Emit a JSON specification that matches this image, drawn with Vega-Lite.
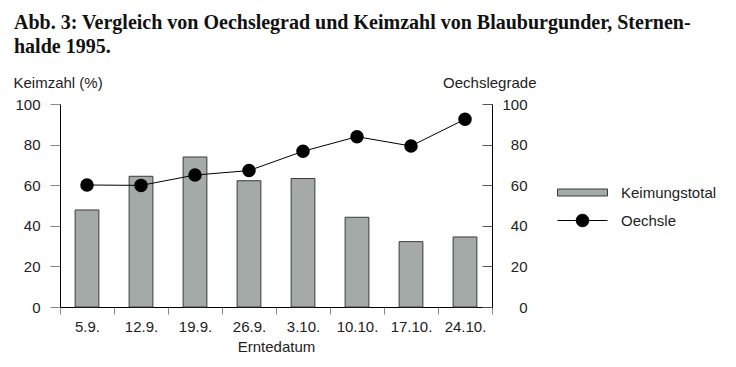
{
  "$schema": "https://vega.github.io/schema/vega-lite/v6.json",
  "width": 432,
  "height": 203,
  "autosize": {"type": "none"},
  "padding": {"left": 60, "top": 104, "right": 244, "bottom": 60},
  "background": "white",
  "title": {
    "text": ["Abb. 3: Vergleich von Oechslegrad und Keimzahl von Blauburgunder, Sternen-", "halde 1995."],
    "anchor": "start",
    "frame": "group",
    "font": "Liberation Serif",
    "fontSize": 20,
    "fontWeight": "bold",
    "color": "#111111",
    "lineHeight": 24,
    "dx": -46,
    "dy": -14
  },
  "config": {
    "view": {"stroke": null},
    "font": "Liberation Sans"
  },
  "data": {
    "values": [
      {"date": "5.9.", "keim": 47.8, "oechsle": 60.1},
      {"date": "12.9.", "keim": 64.4, "oechsle": 59.9},
      {"date": "19.9.", "keim": 73.9, "oechsle": 65.0},
      {"date": "26.9.", "keim": 62.2, "oechsle": 67.2},
      {"date": "3.10.", "keim": 63.3, "oechsle": 76.7},
      {"date": "10.10.", "keim": 44.2, "oechsle": 83.9},
      {"date": "17.10.", "keim": 32.2, "oechsle": 79.3},
      {"date": "24.10.", "keim": 34.5, "oechsle": 92.5}
    ]
  },
  "encoding": {
    "x": {
      "field": "date",
      "type": "nominal",
      "sort": null,
      "scale": {"paddingInner": 0, "paddingOuter": 0},
      "axis": {
        "title": "Erntedatum",
        "labelAngle": 0,
        "tickBand": "extent",
        "tickSize": 7,
        "tickColor": "#888888",
        "domainColor": "#000000",
        "labelPadding": 5,
        "labelFontSize": 15,
        "labelColor": "#222222",
        "titleFontSize": 15,
        "titleFontWeight": "normal",
        "titleColor": "#222222",
        "titlePadding": 5
      }
    }
  },
  "layer": [
    {
      "mark": {"type": "bar", "width": {"band": 0.44}, "stroke": "#3a3a3a", "strokeWidth": 1},
      "encoding": {
        "y": {
          "field": "keim",
          "type": "quantitative",
          "scale": {"domain": [0, 100]},
          "axis": {
            "title": "Keimzahl (%)",
            "titleAngle": 0,
            "titleX": -47,
            "titleY": -17,
            "titleAlign": "left",
            "titleBaseline": "alphabetic",
            "titleFontSize": 15,
            "titleFontWeight": "normal",
            "titleColor": "#222222",
            "values": [0, 20, 40, 60, 80, 100],
            "grid": false,
            "domainColor": "#000000",
            "tickColor": "#888888",
            "tickSize": 10,
            "labelPadding": 10,
            "labelFontSize": 15,
            "labelColor": "#222222"
          }
        },
        "fill": {
          "datum": "Keimungstotal",
          "scale": {"range": ["#a3aaa7"]},
          "legend": {
            "title": null,
            "orient": "none",
            "legendX": 497,
            "legendY": 63,
            "padding": 0,
            "labelFontSize": 15,
            "labelColor": "#222222",
            "labelOffset": 13,
            "symbolSize": 2500,
            "symbolType": "M-1,-0.14H1V0.14H-1Z",
            "symbolStrokeColor": "#3a3a3a",
            "symbolStrokeWidth": 1,
            "symbolOpacity": 1
          }
        }
      }
    },
    {
      "mark": {"type": "line", "strokeWidth": 1, "point": {"filled": true, "fill": "#000000", "size": 133, "opacity": 1}},
      "encoding": {
        "y": {
          "field": "oechsle",
          "type": "quantitative",
          "scale": {"domain": [0, 100]},
          "axis": {
            "orient": "right",
            "title": "Oechslegrade",
            "titleAngle": 0,
            "titleX": 44,
            "titleY": -17,
            "titleAlign": "right",
            "titleBaseline": "alphabetic",
            "titleFontSize": 15,
            "titleFontWeight": "normal",
            "titleColor": "#222222",
            "values": [0, 20, 40, 60, 80, 100],
            "grid": false,
            "domainColor": "#000000",
            "tickColor": "#555555",
            "tickSize": -10,
            "labelAlign": "right",
            "labelPadding": 45,
            "labelFontSize": 15,
            "labelColor": "#222222"
          }
        },
        "stroke": {
          "datum": "Oechsle",
          "scale": {"range": ["#000000"]},
          "legend": {
            "title": null,
            "orient": "none",
            "legendX": 497,
            "legendY": 91,
            "padding": 0,
            "labelFontSize": 15,
            "labelColor": "#222222",
            "labelOffset": 13,
            "symbolSize": 2500,
            "symbolType": "M-1,0H1M0.25,0A0.25,0.25,0,1,1,-0.25,0A0.25,0.25,0,1,1,0.25,0Z",
            "symbolFillColor": "#000000",
            "symbolStrokeWidth": 1,
            "symbolOpacity": 1
          }
        }
      }
    }
  ],
  "resolve": {"scale": {"y": "independent"}}
}
